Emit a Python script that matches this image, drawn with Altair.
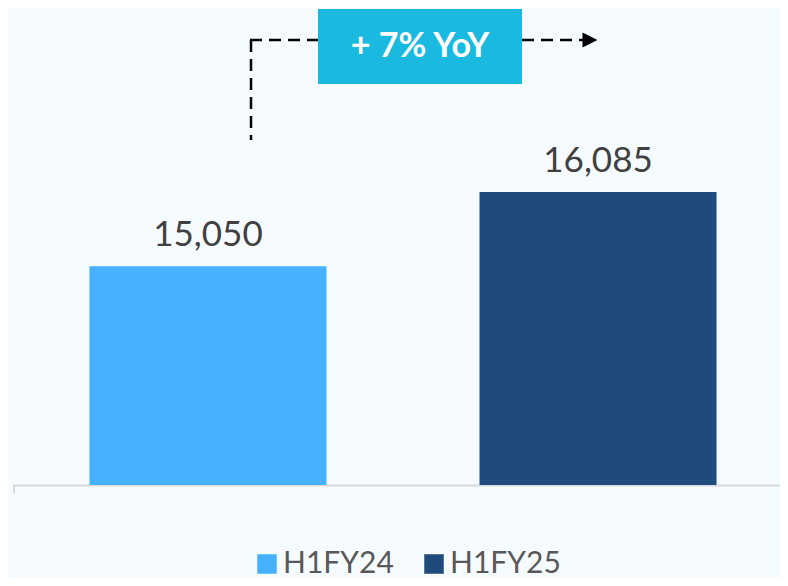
import altair as alt
import pandas as pd

periods = ["H1FY24", "H1FY25"]
values = [15050, 16085]
labels = ["15,050", "16,085"]
colors = ["#46B2FF", "#1F4A7C"]
badge_text = "+ 7% YoY"

df = pd.DataFrame({"period": periods, "value": values, "label": labels})
one = pd.DataFrame({"k": [0]})

FONT = "Lato"

x_enc = alt.X(
    "period:N",
    sort=periods,
    scale=alt.Scale(domain=periods, range=[0, 780], paddingInner=0.3923, paddingOuter=0.196),
    axis=alt.Axis(labels=False, ticks=False, title=None, domainColor="#D9D9D9", domainWidth=2, grid=False),
)
y_enc = alt.Y("value:Q", scale=alt.Scale(domain=[12000, 18650], zero=False, nice=False), axis=None)

bars = alt.Chart(df).mark_bar().encode(
    x=x_enc,
    y=y_enc,
    y2=alt.datum(12000),
    color=alt.Color(
        "period:N",
        scale=alt.Scale(domain=periods, range=colors),
        legend=alt.Legend(
            orient="none", legendX=239, legendY=541, direction="horizontal", title=None,
            symbolType="square", symbolSize=380, symbolStrokeWidth=0, symbolOpacity=1,
            labelFontSize=30, labelFont=FONT, labelColor="#595959", labelOffset=1,
            columnPadding=25, padding=0,
        ),
    ),
)

texts = alt.Chart(df).mark_text(
    font=FONT, fontSize=35, color="#404040", baseline="alphabetic", dy=-20
).encode(x=alt.X("period:N", sort=periods), y=alt.Y("value:Q"), text="label:N")

# left axis stub tick
stub = alt.Chart(one).mark_rule(color="#D9D9D9", strokeWidth=2).encode(
    x=alt.value(1), y=alt.value(477), y2=alt.value(485)
)

dash = [12, 7]
vline = alt.Chart(one).mark_rule(color="black", strokeWidth=2.5, strokeDash=dash).encode(
    x=alt.value(238), y=alt.value(32), y2=alt.value(132)
)
hline1 = alt.Chart(one).mark_rule(color="black", strokeWidth=2.5, strokeDash=dash).encode(
    x=alt.value(237), x2=alt.value(305), y=alt.value(32)
)
hline2 = alt.Chart(one).mark_rule(color="black", strokeWidth=2.5, strokeDash=dash).encode(
    x=alt.value(509), x2=alt.value(571), y=alt.value(32)
)
arrow = alt.Chart(one).mark_point(
    shape="M -1 -1 L 1 0 L -1 1 Z", filled=True, color="black", opacity=1, size=225
).encode(x=alt.value(577), y=alt.value(32))

box = alt.Chart(one).mark_rect(color="#1ABAE0").encode(
    x=alt.value(305), x2=alt.value(509), y=alt.value(1), y2=alt.value(76)
)
box_text = alt.Chart(one).mark_text(
    font=FONT, fontSize=34, fontWeight="bold", color="white", baseline="middle", align="center"
).encode(x=alt.value(407), y=alt.value(39), text=alt.value(badge_text))

chart = alt.layer(
    bars, texts, stub, vline, hline1, hline2, arrow, box, box_text
).properties(
    width=767,
    height=477,
    padding={"left": 5, "top": 0, "right": 0, "bottom": 93},
    autosize=alt.AutoSizeParams(type="none"),
    background="#F5FBFE",
).configure_view(stroke=None)

chart.save("out.html", embed_options={"renderer": "svg", "actions": False})
